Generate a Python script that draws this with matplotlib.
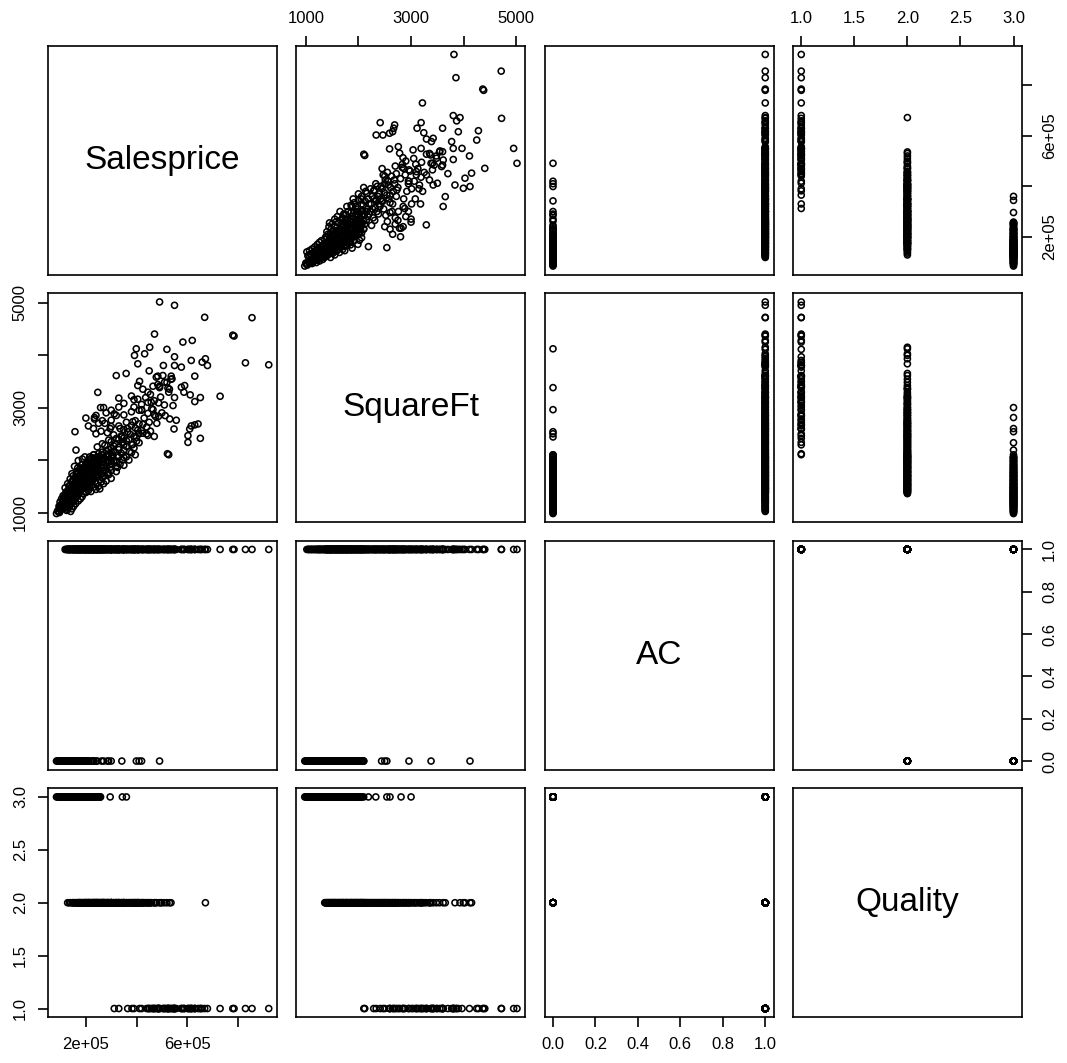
import numpy as np
import matplotlib.pyplot as plt

plt.rcParams['font.family'] = ['Liberation Sans', 'DejaVu Sans']

# (SquareFt, Salesprice in thousands), grouped by Quality / AC
q3_noac = [
    (980, 84), (1010, 92), (1050, 100), (1080, 96), (1100, 110), (1120, 104), (1150, 118), (1170, 112),
    (1190, 125), (1210, 108), (1230, 130), (1250, 120), (1270, 138), (1290, 115), (1300, 126), (1320, 142),
    (1340, 122), (1360, 134), (1380, 148), (1400, 128), (1420, 155), (1440, 140), (1460, 136), (1480, 160),
    (1500, 146), (1530, 152), (1560, 165), (1590, 144), (1620, 170), (1650, 158), (1680, 175), (1720, 162),
    (1760, 182), (1800, 190), (1850, 168), (1900, 200), (1960, 210), (2020, 186), (2100, 230), (2540, 157),
    (1000, 96), (1030, 88), (1070, 108), (1120, 94), (1140, 100), (1180, 120), (1200, 98), (1240, 112),
    (1260, 104), (1280, 132), (1320, 110), (1350, 118), (1390, 122), (1430, 130), (1470, 118), (1510, 134),
    (1550, 128), (1600, 150), (1640, 138), (1700, 150), (1740, 145), (1780, 165), (1830, 178), (1880, 155),
    (1920, 185), (1990, 170), (2060, 196), (1150, 135), (1330, 155), (1540, 175)]

q3_ac = [
    (1040, 124), (1060, 128), (1090, 132), (1110, 122), (1130, 136), (1160, 140), (1180, 128), (1200, 148),
    (1220, 135), (1240, 156), (1260, 144), (1280, 160), (1300, 138), (1310, 166), (1330, 150), (1350, 172),
    (1370, 158), (1390, 146), (1410, 180), (1430, 164), (1450, 176), (1470, 152), (1490, 186), (1510, 170),
    (1540, 192), (1570, 178), (1600, 200), (1630, 184), (1660, 196), (1690, 206), (1720, 188), (1750, 214),
    (1780, 202), (1810, 222), (1840, 210), (1870, 230), (1900, 218), (1940, 240), (1980, 226), (2020, 250),
    (2050, 256), (1560, 160), (1620, 172), (1480, 190), (1380, 150), (1700, 238), (1820, 246), (1270, 118),
    (1020, 140), (1070, 145), (1120, 152), (1170, 160), (1220, 170), (1260, 178), (1300, 185), (1340, 132),
    (1360, 190), (1400, 200), (1420, 135), (1460, 210), (1500, 215), (1530, 140), (1580, 220), (1610, 150),
    (1650, 228), (1680, 160), (1720, 245), (1760, 168), (1800, 255), (1850, 180), (1890, 250), (1930, 200),
    (1970, 255), (2000, 212), (2040, 230), (1240, 128), (1460, 160), (1760, 225),
    (2190, 161), (2330, 344), (2060, 360), (2600, 296), (2810, 234), (3000, 258)]

q2_noac = [
    (1360, 128), (1400, 140), (1440, 135), (1470, 150), (1500, 146), (1530, 160), (1560, 155), (1600, 170),
    (1640, 165), (1680, 180), (1720, 176), (1760, 190), (1800, 200), (1840, 186), (1880, 210), (1920, 220),
    (1960, 205), (2000, 232), (2050, 245), (2100, 262), (2060, 285), (1980, 300), (1420, 150), (1540, 175),
    (1620, 185), (1700, 195), (1780, 210), (1860, 225), (1940, 240), (2020, 270), (2080, 290), (1500, 165),
    (2440, 342), (2500, 410), (2960, 420), (3380, 491), (4120, 399)]

q2_ac = [
    (1370, 152), (1390, 168), (1410, 175), (1430, 160), (1450, 185), (1470, 196), (1490, 172), (1510, 205),
    (1530, 188), (1550, 212), (1570, 198), (1590, 225), (1420, 210), (1480, 230), (1560, 240),
    (1610, 180), (1630, 215), (1650, 232), (1670, 195), (1690, 248), (1710, 222), (1730, 260), (1750, 205),
    (1770, 238), (1790, 270), (1620, 255), (1700, 275), (1760, 288), (1680, 172), (1740, 185),
    (1810, 215), (1830, 245), (1850, 262), (1870, 228), (1890, 280), (1910, 250), (1930, 300), (1950, 235),
    (1970, 268), (1990, 310), (1820, 195), (1880, 320), (1940, 205), (1860, 296), (1980, 285),
    (2010, 240), (2030, 275), (2050, 300), (2070, 255), (2090, 325), (2110, 285), (2130, 340), (2150, 265),
    (2170, 310), (2190, 350), (2040, 222), (2100, 232), (2160, 372), (2060, 330), (2200, 290),
    (2220, 300), (2240, 330), (2260, 360), (2280, 275), (2300, 385), (2320, 315), (2340, 345), (2360, 400),
    (2380, 290), (2400, 370), (2250, 245), (2310, 265), (2390, 330),
    (1380, 200), (1400, 220), (1440, 240), (1460, 175), (1500, 250), (1520, 225), (1540, 178), (1580, 260),
    (1600, 195), (1600, 280), (1640, 200), (1660, 265), (1700, 210), (1720, 290), (1760, 250), (1780, 215),
    (1800, 300), (1840, 230), (1860, 325), (1900, 270), (1920, 335), (1960, 290), (2000, 345), (2020, 260),
    (2060, 215), (2080, 305), (2120, 250), (2140, 380), (2180, 280), (2200, 330), (2230, 390), (2270, 310),
    (2290, 350), (2330, 410), (2350, 300), (2370, 360), (2410, 320), (2430, 400), (2460, 340), (2490, 375),
    (2520, 285), (2560, 420), (2580, 350), (2610, 395), (2650, 330), (2680, 425), (2700, 275), (2730, 385),
    (1650, 300), (1780, 320), (1900, 350), (2000, 370), (2100, 395), (1550, 270), (1450, 255), (1700, 240),
    (1850, 270), (1950, 320), (2050, 350), (2150, 300),
    (2600, 230), (2700, 250), (2750, 265), (2850, 240), (2900, 280), (2650, 210), (2550, 260), (2950, 300),
    (3000, 270), (2500, 240), (2800, 200),
    (2420, 350), (2450, 390), (2480, 310), (2510, 425), (2540, 365), (2570, 405), (2600, 335), (2630, 440),
    (2660, 380), (2690, 410), (2470, 445), (2550, 455), (2720, 360), (2640, 300), (2450, 470), (2700, 480),
    (2750, 395), (2780, 234), (2800, 430), (2830, 475), (2860, 350), (2890, 445), (2920, 380), (2950, 410),
    (2980, 460), (2760, 300), (2850, 320), (2900, 500),
    (3010, 390), (3060, 420), (3100, 445), (3130, 470), (3160, 405), (3190, 436), (3220, 380), (3250, 455),
    (3080, 350), (3180, 330), (3050, 510), (3200, 495),
    (3290, 247), (3350, 425), (3420, 405), (3480, 520), (3540, 536), (3610, 320), (3650, 359), (3350, 530),
    (3834, 405), (3994, 392), (4025, 432), (4150, 452), (3930, 672)]

q1_ac = [
    (3815, 922), (3853, 830), (4713, 856), (4363, 785), (4380, 780), (3216, 730), (4720, 669), (3802, 680),
    (3866, 659), (3191, 652), (2414, 652), (2688, 643), (2670, 630), (2650, 616), (3114, 630), (3599, 630),
    (3898, 616), (3242, 612), (2465, 603), (2592, 610), (2337, 603), (4248, 583), (4949, 550), (5013, 491),
    (4401, 471), (3771, 577), (3802, 550), (3968, 550), (3802, 506), (3611, 504), (3599, 484), (3420, 590),
    (3293, 587), (3388, 577), (2758, 557), (2592, 548), (3038, 544), (3191, 550), (3293, 527), (3369, 524),
    (3548, 540), (3599, 537), (2102, 527), (2120, 522), (3407, 491), (3484, 511), (3580, 478), (2783, 531),
    (2847, 513), (2834, 487), (2860, 471), (2962, 465), (3089, 487), (3102, 458), (3293, 445), (3407, 465),
    (3439, 484), (2290, 382), (2500, 440), (2720, 450), (2950, 420), (3150, 390), (2600, 365), (3500, 412),
    (3700, 450), (4110, 520), (4280, 620), (3010, 330), (2880, 312)]

groups = [(q3_noac, 0, 3), (q3_ac, 1, 3), (q2_noac, 0, 2), (q2_ac, 1, 2), (q1_ac, 1, 1)]

sqft, price, ac, quality = [], [], [], []
for pts, a, q in groups:
    for s, p in pts:
        sqft.append(s)
        price.append(p * 1000)
        ac.append(a)
        quality.append(q)

names = ['Salesprice', 'SquareFt', 'AC', 'Quality']
cols = [np.array(price, float), np.array(sqft, float), np.array(ac, float), np.array(quality, float)]

tick_info = [
    ([2e5, 4e5, 6e5, 8e5], ['2e+05', '', '6e+05', '']),
    ([1000, 2000, 3000, 4000, 5000], ['1000', '', '3000', '', '5000']),
    ([0, 0.2, 0.4, 0.6, 0.8, 1.0], ['0.0', '0.2', '0.4', '0.6', '0.8', '1.0']),
    ([1, 1.5, 2, 2.5, 3], ['1.0', '1.5', '2.0', '2.5', '3.0']),
]

def padded(v):
    lo, hi = v.min(), v.max()
    d = (hi - lo) * 0.04
    return lo - d, hi + d

fig, axes = plt.subplots(4, 4, figsize=(10.67, 10.63), dpi=100)
plt.subplots_adjust(left=48/1067, right=1022/1067, top=1-46/1063, bottom=1-1017/1063,
                    wspace=0.083, hspace=0.083)

for i in range(4):
    for j in range(4):
        ax = axes[i, j]
        ax.set_xlim(padded(cols[j]))
        ax.set_ylim(padded(cols[i]))
        for sp in ax.spines.values():
            sp.set_linewidth(1.2)
        ax.tick_params(bottom=False, top=False, left=False, right=False,
                       labelbottom=False, labeltop=False, labelleft=False, labelright=False)
        if i == j:
            ax.text(0.5, 0.5, names[i], transform=ax.transAxes, ha='center', va='center', fontsize=24)
        else:
            ax.scatter(cols[j], cols[i], s=19, facecolors='none', edgecolors='black', linewidths=1.15)
        # x axis: bottom for even columns (last row), top for odd columns (first row)
        if (j % 2 == 0 and i == 3) or (j % 2 == 1 and i == 0):
            ax.set_xticks(tick_info[j][0])
            ax.set_xticklabels(tick_info[j][1])
            if i == 3:
                ax.tick_params(axis='x', bottom=True, labelbottom=True)
            else:
                ax.tick_params(axis='x', top=True, labeltop=True)
            ax.tick_params(axis='x', direction='out', length=7.5, width=1.2, pad=7, labelsize=12)
        # y axis: right for even rows (last column), left for odd rows (first column)
        if (i % 2 == 0 and j == 3) or (i % 2 == 1 and j == 0):
            ax.set_yticks(tick_info[i][0])
            ax.set_yticklabels(tick_info[i][1], rotation=90, va='center')
            if j == 3:
                ax.tick_params(axis='y', right=True, labelright=True)
            else:
                ax.tick_params(axis='y', left=True, labelleft=True)
            ax.tick_params(axis='y', direction='out', length=7.5, width=1.2, pad=7, labelsize=12)

fig.savefig('out.png', dpi=100)
